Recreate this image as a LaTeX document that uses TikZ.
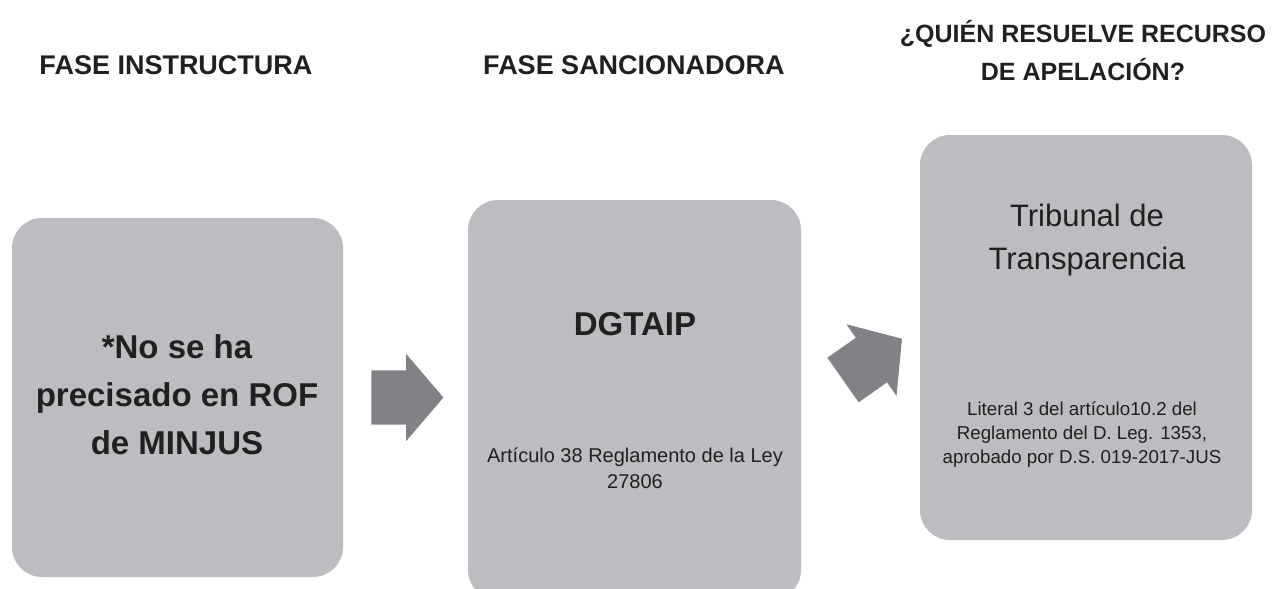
\documentclass[tikz,border=0pt]{standalone}
\usepackage{fontspec}
\setmainfont{Liberation Sans}
\usepackage{xcolor}
\usetikzlibrary{positioning, shapes.arrows}

\definecolor{boxgray}{HTML}{BCBDC0}
\definecolor{arrowgray}{HTML}{808285}
\definecolor{inkblack}{HTML}{231F20}

\begin{document}
\begin{tikzpicture}[x=1pt, y=-1pt]
            % Define styles for the boxes, titles and block arrows
            \tikzstyle{phasebox} = [fill=boxgray, rounded corners=30pt, inner sep=0pt]
            \tikzstyle{heading} = [font=\fontsize{27}{38}\selectfont\bfseries, text=inkblack, align=center]
            \tikzstyle{bigtext} = [text=inkblack, align=center]
            \tikzstyle{blockarrow} = [single arrow, fill=arrowgray, inner xsep=0pt, inner ysep=27pt, minimum height=72pt, single arrow head extend=16.5pt, single arrow tip angle=99]

            \useasboundingbox (0,0) rectangle (1275,589);

            % Boxes for the phases
            \node [phasebox, minimum width=331pt, minimum height=359pt] (instructora) at (177.5,397.5) {};
            \node [phasebox, minimum width=333pt, minimum height=400pt] (sancion) at (634.5,400) {};
            \node [phasebox, minimum width=332pt, minimum height=405pt] (apelacion) at (1086,337.5) {};

            % Titles above the boxes
            \node [heading] (titleA) at (176,65.5) {FASE INSTRUCTURA};
            \node [heading] (titleB) at (634,65.5) {FASE SANCIONADORA};
            \node [heading, font=\fontsize{25}{38}\selectfont\bfseries] (titleC) at (1083,51) {¿QUIÉN RESUELVE RECURSO \\ DE APELACIÓN?};

            % Texts inside the boxes
            \node [bigtext, font=\fontsize{33}{48}\selectfont\bfseries] (noteA) at (177,395) {*No se ha \\ precisado en ROF \\ de MINJUS};
            \node [bigtext, font=\fontsize{33}{40}\selectfont\bfseries] (organB) at (635,324.5) {DGTAIP};
            \node [bigtext, font=\fontsize{20}{26}\selectfont] (lawB) at (635,468) {Artículo 38 Reglamento de la Ley \\ 27806};
            \node [bigtext, font=\fontsize{31}{43}\selectfont] (organC) at (1087,240) {Tribunal de \\ Transparencia};
            \node [bigtext, font=\fontsize{18.7}{24}\selectfont] (lawC) at (1082,435) {Literal 3 del artículo10.2 del \\ Reglamento del D. Leg. 1353, \\ aprobado por D.S. 019-2017-JUS};

            % Block arrows between the phases
            \node [blockarrow, right=28pt of instructora] (toSancion) {};
            \node [blockarrow, rotate=35] (toApelacion) at (863,366) {};
        \end{tikzpicture}
\end{document}
